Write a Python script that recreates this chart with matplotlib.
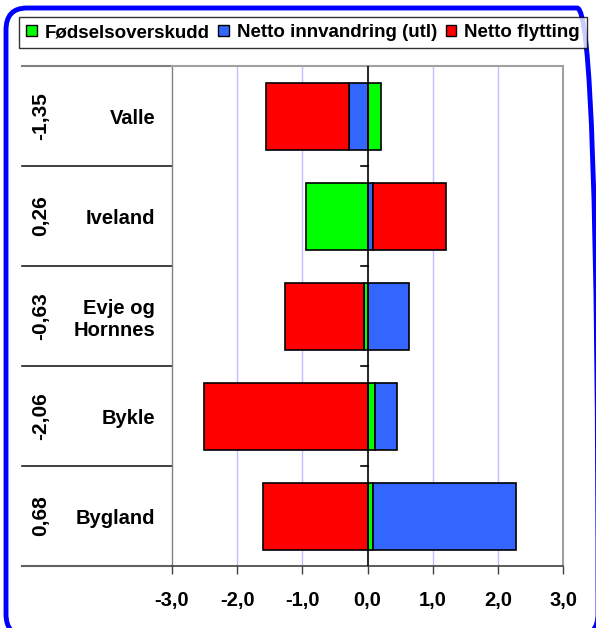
import matplotlib
matplotlib.use("Agg")
import matplotlib.pyplot as plt
import matplotlib.transforms as mtransforms
from matplotlib.patches import FancyBboxPatch, Patch
import numpy as np

plt.rcParams['font.family'] = ['Liberation Sans', 'DejaVu Sans']
plt.rcParams['font.weight'] = 'bold'

categories = ["Valle", "Iveland", "Evje og\nHornnes", "Bykle", "Bygland"]
totals = ["-1,35", "0,26", "-0,63", "-2,06", "0,68"]
series_names = ["Fødselsoverskudd", "Netto innvandring (utl)", "Netto flytting"]
fodsel = [0.21, -0.95, -0.06, 0.12, 0.08]
innvandring = [-0.29, 0.08, 0.63, 0.33, 2.20]
flytting = [-1.27, 1.13, -1.20, -2.51, -1.60]
colors = ["#00ff00", "#3366ff", "#ff0000"]
xticks = [-3, -2, -1, 0, 1, 2, 3]

fig = plt.figure(figsize=(5.96, 6.28), dpi=100)
ax = fig.add_axes([172 / 596, 1 - 566 / 628, 391 / 596, 500 / 628])

y = np.arange(len(categories))
pos = np.zeros(len(categories))
neg = np.zeros(len(categories))
for vals, col, name in zip([fodsel, innvandring, flytting], colors, series_names):
    vals = np.array(vals)
    left = np.where(vals >= 0, pos, neg)
    ax.barh(y, vals, left=left, height=0.67, color=col, edgecolor="black",
            linewidth=1.2, zorder=3, label=name)
    pos += np.where(vals >= 0, vals, 0)
    neg += np.where(vals < 0, vals, 0)

ax.set_xlim(-3, 3)
ax.set_ylim(len(categories) - 0.5, -0.5)

# gridlines
for xv in [-2, -1, 1, 2]:
    ax.axvline(xv, color="#c0c0ff", linewidth=1, zorder=1)
ax.axvline(0, color="black", linewidth=1.2, zorder=4)
for b in np.arange(len(categories) - 1) + 0.5:
    ax.plot([-0.1, 0], [b, b], color="black", linewidth=1.2, zorder=4)

for s in ["top", "right"]:
    ax.spines[s].set_color("#a0a0a0")
    ax.spines[s].set_linewidth(1.5)
ax.spines["left"].set_color("#808080")
ax.spines["left"].set_linewidth(1)
ax.spines["bottom"].set_color("#404040")
ax.spines["bottom"].set_linewidth(1.2)

ax.set_xticks(xticks)
ax.set_xticklabels([f"{v:.1f}".replace(".", ",") for v in xticks], fontsize=14.5, fontweight="bold")
ax.tick_params(axis="x", length=6, width=1, color="#404040", pad=12)
ax.set_yticks(y)
ax.set_yticklabels(categories, fontsize=14.5, fontweight="bold", linespacing=1.2)
ax.tick_params(axis="y", length=0, pad=12)

# label area lines and totals
trans = mtransforms.blended_transform_factory(ax.transAxes, ax.transData)
x_left = (22 - 172) / 391
for b in np.arange(len(categories) - 1) + 0.5:
    ax.plot([x_left, 0], [b, b], color="#202020", linewidth=1.2, transform=trans, clip_on=False)
ax.plot([x_left, 0], [-0.5, -0.5], color="#808080", linewidth=1.5, transform=trans, clip_on=False)
ax.plot([x_left, 0], [len(categories) - 0.5] * 2, color="#606060", linewidth=1.5,
        transform=trans, clip_on=False)
for yi, t in zip(y, totals):
    ax.text((41 - 172) / 391, yi, t, transform=trans, rotation=90, ha="center", va="center",
            fontsize=15, fontweight="bold")

handles = [Patch(facecolor=c, edgecolor="black", linewidth=1) for c in colors]
leg = fig.legend(handles, series_names, loc="center", bbox_to_anchor=(303 / 596, 1 - 32.5 / 628),
                 ncol=3, frameon=True, fancybox=False, edgecolor="black",
                 prop={"weight": "bold", "size": 13.5}, handlelength=0.56, handleheight=0.56,
                 handletextpad=0.43, columnspacing=0.46, borderpad=0.36, borderaxespad=0)
leg.get_frame().set_linewidth(1)

border = FancyBboxPatch((6 / 596, -8 / 628), 592 / 596, 628 / 628,
                        boxstyle="round,pad=0,rounding_size=0.035",
                        transform=fig.transFigure, facecolor="none", edgecolor="#0000ff",
                        linewidth=3.5, clip_on=False)
fig.patches.append(border)

fig.savefig("out.png", dpi=100)
